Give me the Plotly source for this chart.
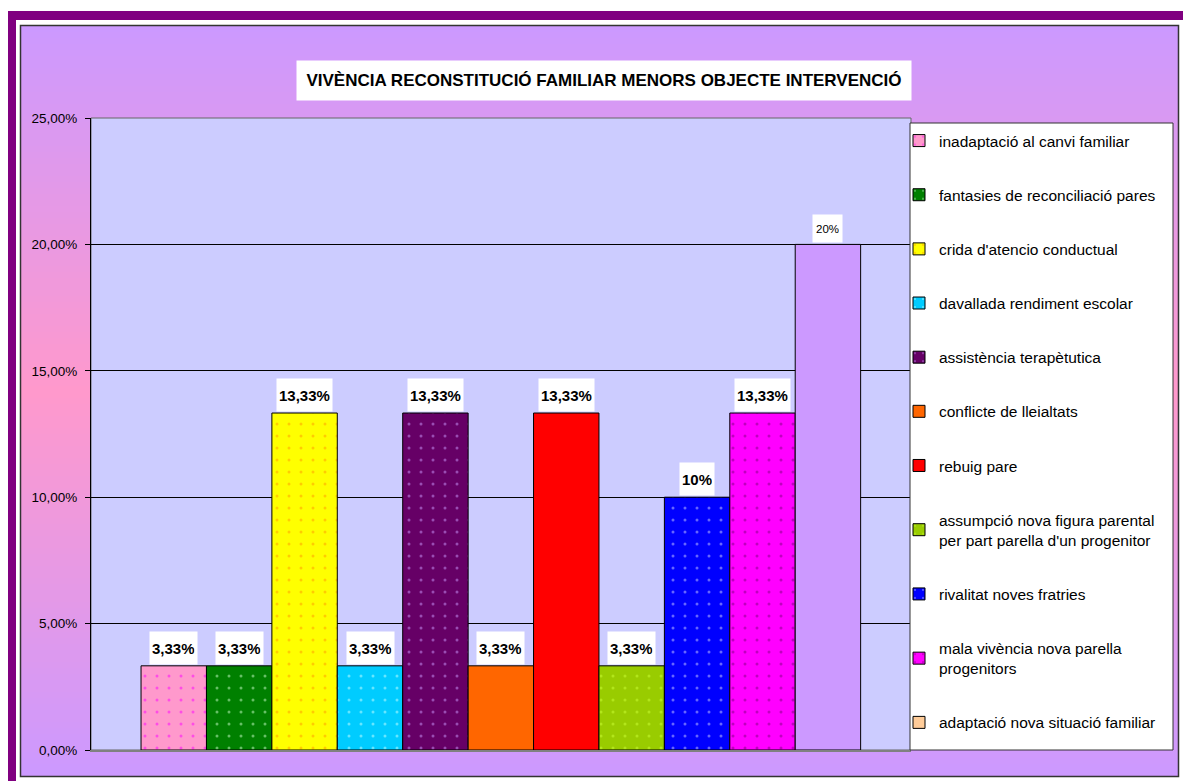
import plotly.graph_objects as go

# dades
categories = [
    "inadaptació al canvi familiar",
    "fantasies de reconciliació pares",
    "crida d'atencio conductual",
    "davallada rendiment escolar",
    "assistència terapètutica",
    "conflicte de lleialtats",
    "rebuig pare",
    "assumpció nova figura parental<br>per part parella d'un progenitor",
    "rivalitat noves fratries",
    "mala vivència nova parella<br>progenitors",
    "adaptació nova situació familiar",
]
percentatges = [3.33, 3.33, 13.33, 3.33, 13.33, 3.33, 13.33, 3.33, 10, 13.33, 20]
etiquetes = ["3,33%", "3,33%", "13,33%", "3,33%", "13,33%", "3,33%",
             "13,33%", "3,33%", "10%", "13,33%", "20%"]
titol = "VIVÈNCIA RECONSTITUCIÓ FAMILIAR MENORS OBJECTE INTERVENCIÓ"

# estil
colors = ["#FF99CC", "#008000", "#FFFF00", "#00CCFF", "#660066", "#FF6600",
          "#FF0000", "#99CC00", "#0000FF", "#FF00FF", "#CC99FF"]
punts = ["#FF00FF", "#CCFFCC", "#FF9900", "#CCFFFF", "#CC99FF", None,
         None, "#CCFF33", "#CCCCFF", "#800080", None]
color_llegenda_ultim = "#FFCC99"

# la pàgina té 8 px de marge al body
OFF = 8
W, H = 1191 - OFF, 781 - OFF
L, R, T, B = 91, 911, 118, 750


def px(x):
    return (x - L) / (R - L)


def py(y):
    return (B - y) / (B - T)


fig = go.Figure()

for i, (nom, v) in enumerate(zip(categories, percentatges)):
    ultim = i == len(categories) - 1
    pattern = dict(shape=".", fgcolor=punts[i], size=12, solidity=0.05,
                   fillmode="overlay") if punts[i] else dict(shape="")
    fig.add_trace(go.Bar(
        x=[i], y=[v / 100], width=1, name=nom,
        legendgroup=str(i), showlegend=not ultim,
        marker=dict(color=colors[i], line=dict(color="black", width=1),
                    pattern=pattern),
    ))

# entrada de llegenda per a l'última sèrie (color diferent a la barra)
fig.add_trace(go.Bar(
    x=[None], y=[None], name=categories[-1], legendgroup="last",
    marker=dict(color=color_llegenda_ultim, line=dict(color="black", width=1)),
))

# etiquetes de dades
for i, (v, txt) in enumerate(zip(percentatges, etiquetes)):
    petit = txt == "20%"
    fig.add_annotation(
        x=i, y=v / 100, xref="x", yref="y", yanchor="bottom", yshift=1,
        text=txt if petit else f"<b>{txt}</b>", showarrow=False,
        bgcolor="white", borderpad=2 if not petit else 3,
        height=28 if not petit else 21,
        font=dict(family="Arial", size=11.5 if petit else 15, color="black"),
    )

# titol
fig.add_annotation(
    x=px(604), y=py(81), xref="paper", yref="paper",
    xanchor="center", yanchor="middle", text=f"<b>{titol}</b>",
    showarrow=False, bgcolor="white", borderpad=3, width=608, height=33,
    font=dict(family="Arial", size=17, color="black"),
)

# marc i fons degradat
shapes = [
    dict(type="rect", xref="paper", yref="paper", layer="below",
         x0=px(7), x1=px(1210), y0=py(11), y1=py(810),
         fillcolor="#800080", line=dict(width=0)),
    dict(type="rect", xref="paper", yref="paper", layer="below",
         x0=px(16), x1=px(1183), y0=py(20), y1=py(810),
         fillcolor="white", line=dict(width=0)),
]
top, bot, mid = 26, 776, 392
step = 6
y = top
while y < bot:
    yc = y + step / 2
    d = (mid - yc) / (mid - top) if yc < mid else (yc - mid) / (bot - mid)
    t = max(0.0, 1 - d)
    r = int(round(204 + 51 * t))
    b = int(round(255 - 51 * t))
    shapes.append(dict(type="rect", xref="paper", yref="paper", layer="below",
                       x0=px(20), x1=px(1179), y0=py(y), y1=py(min(y + step, bot) + 0.5),
                       fillcolor=f"rgb({r},153,{b})", line=dict(width=0)))
    y += step
shapes.append(dict(type="rect", xref="paper", yref="paper", layer="below",
                   x0=px(20.5), x1=px(1178.5), y0=py(25.5), y1=py(776.5),
                   fillcolor="rgba(0,0,0,0)", line=dict(color="#333333", width=1.5)))
# fons de l'àrea de traçat
shapes.append(dict(type="rect", xref="paper", yref="paper", layer="below",
                   x0=0, x1=1, y0=0, y1=1,
                   fillcolor="#CCCCFF", line=dict(color="#666666", width=1)))
# caixa de la llegenda
shapes.append(dict(type="rect", xref="paper", yref="paper", layer="above",
                   x0=px(910), x1=px(1173), y0=py(123), y1=py(750),
                   fillcolor="white", line=dict(color="#333333", width=1)))

fig.update_layout(
    width=W, height=H,
    margin=dict(l=L - OFF, r=W - (R - OFF), t=T - OFF, b=H - (B - OFF), pad=0),
    paper_bgcolor="white", plot_bgcolor="#CCCCFF",
    barmode="overlay", separators=",.",
    shapes=shapes,
    showlegend=True,
    legend=dict(
        x=px(899), y=py(124), xanchor="left", yanchor="top",
        bgcolor="rgba(0,0,0,0)", borderwidth=0,
        traceorder="grouped", tracegroupgap=31,
        font=dict(family="Arial", size=15.5, color="black"),
    ),
    font=dict(family="Arial", color="black"),
)

fig.update_xaxes(
    range=[-1.265, 11.27], showticklabels=False, showgrid=False,
    zeroline=False, showline=True, linecolor="#808080", linewidth=2,
)
fig.update_yaxes(
    range=[0, 0.25], dtick=0.05, tickformat=".2%",
    showgrid=True, gridcolor="black", gridwidth=1, zeroline=False,
    showline=True, linecolor="black", linewidth=1,
    ticks="outside", ticklen=5, tickcolor="black", ticklabelstandoff=5,
    tickfont=dict(family="Arial", size=13.5, color="black"),
)

fig.write_html("out.html")
